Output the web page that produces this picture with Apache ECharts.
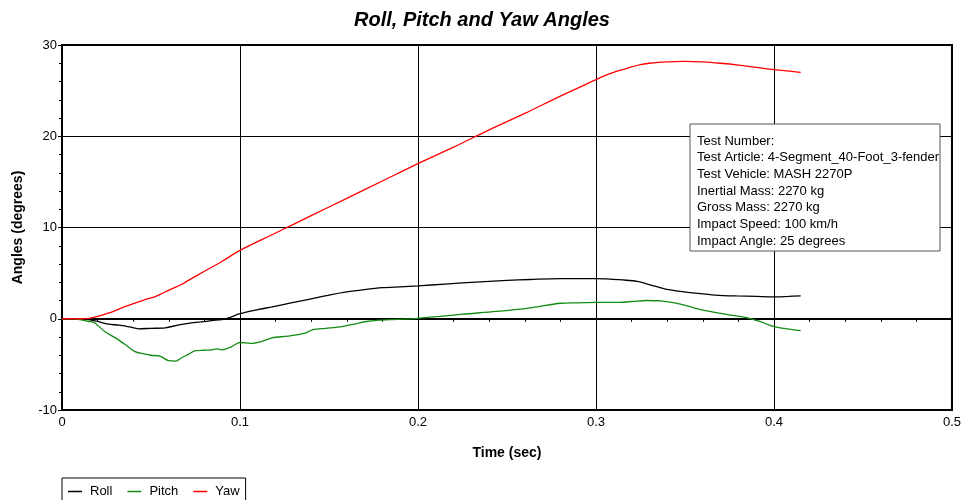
<!DOCTYPE html>
<html>
<head>
<meta charset="utf-8">
<script src="https://cdn.jsdelivr.net/npm/echarts@6/dist/echarts.min.js"></script>
<style>
  html, body { margin: 0; padding: 0; background: #fff; }
  #chart { width: 964px; height: 500px; }
</style>
</head>
<body>
<div id="chart"></div>
<script>
// values
var rollT = [0, 0.01, 0.015, 0.02, 0.026, 0.032, 0.038, 0.043, 0.05, 0.058, 0.065, 0.071, 0.078, 0.084, 0.092, 0.1, 0.11, 0.118, 0.128, 0.138, 0.15, 0.16, 0.17, 0.18, 0.19, 0.2, 0.215, 0.235, 0.25, 0.263, 0.28, 0.29, 0.3, 0.308, 0.315, 0.323, 0.33, 0.338, 0.347, 0.356, 0.367, 0.379, 0.39, 0.4, 0.408, 0.415];
var rollV = [0, 0, -0.1, -0.3, -0.6, -0.7, -0.9, -1.1, -1.05, -1.0, -0.7, -0.5, -0.35, -0.2, 0, 0.55, 1.0, 1.3, 1.7, 2.1, 2.6, 2.95, 3.2, 3.4, 3.5, 3.6, 3.8, 4.05, 4.2, 4.3, 4.4, 4.4, 4.4, 4.35, 4.25, 4.1, 3.75, 3.3, 3.0, 2.8, 2.6, 2.5, 2.45, 2.4, 2.45, 2.5];

var pitchT = [0, 0.007, 0.015, 0.018, 0.024, 0.03, 0.036, 0.041, 0.046, 0.05, 0.055, 0.06, 0.064, 0.067, 0.071, 0.075, 0.08, 0.084, 0.087, 0.09, 0.095, 0.1, 0.106, 0.112, 0.118, 0.127, 0.136, 0.141, 0.148, 0.156, 0.164, 0.171, 0.178, 0.184, 0.2, 0.212, 0.225, 0.244, 0.263, 0.28, 0.29, 0.3, 0.313, 0.321, 0.328, 0.336, 0.345, 0.355, 0.364, 0.374, 0.384, 0.392, 0.399, 0.407, 0.415];
var pitchV = [0, 0, -0.3, -0.4, -1.4, -2.1, -2.9, -3.6, -3.85, -4.0, -4.1, -4.6, -4.65, -4.3, -3.9, -3.5, -3.45, -3.4, -3.3, -3.4, -3.1, -2.6, -2.7, -2.5, -2.1, -1.9, -1.6, -1.2, -1.05, -0.9, -0.6, -0.3, -0.15, -0.1, 0.05, 0.25, 0.5, 0.8, 1.2, 1.7, 1.75, 1.8, 1.8, 1.9, 2.0, 1.95, 1.7, 1.2, 0.8, 0.45, 0.15, -0.3, -0.8, -1.1, -1.3];

var yawT = [0, 0.01, 0.015, 0.02, 0.025, 0.03, 0.035, 0.041, 0.046, 0.052, 0.057, 0.062, 0.067, 0.071, 0.08, 0.09, 0.1, 0.12, 0.14, 0.16, 0.18, 0.2, 0.22, 0.24, 0.26, 0.28, 0.3, 0.305, 0.31, 0.315, 0.32, 0.325, 0.33, 0.335, 0.34, 0.35, 0.36, 0.37, 0.38, 0.39, 0.4, 0.41, 0.415];
var yawV = [0, 0, 0.05, 0.25, 0.55, 0.9, 1.3, 1.7, 2.05, 2.4, 2.85, 3.3, 3.75, 4.2, 5.2, 6.3, 7.5, 9.4, 11.3, 13.2, 15.1, 17.0, 18.8, 20.7, 22.5, 24.4, 26.2, 26.65, 27.0, 27.3, 27.6, 27.85, 28.0, 28.1, 28.15, 28.2, 28.15, 28.0, 27.8, 27.55, 27.3, 27.1, 27.0];

var infoLines = [
  'Test Number:',
  'Test Article: 4-Segment_40-Foot_3-fender',
  'Test Vehicle: MASH 2270P',
  'Inertial Mass: 2270 kg',
  'Gross Mass: 2270 kg',
  'Impact Speed: 100 km/h',
  'Impact Angle: 25 degrees'
];

var FONT = 'Liberation Sans, Arial, sans-serif';

function pairs(t, v) {
  var out = [];
  for (var i = 0; i < t.length; i++) {
    out.push([t[i], v[i]]);
  }
  return out;
}

function lineSeries(name, color, t, v) {
  return {
    name: name,
    type: 'line',
    data: pairs(t, v),
    showSymbol: false,
    smooth: 0.3,
    lineStyle: { color: color, width: 1.3 },
    itemStyle: { color: color },
    emphasis: { disabled: true },
    z: 3
  };
}

// info box lines, one text element each
var infoTexts = infoLines.map(function (s, i) {
  return {
    type: 'text',
    x: 697,
    y: 141 + i * 16.7,
    z: 11,
    style: {
      text: s,
      fontSize: 13,
      fill: '#000',
      fontFamily: FONT,
      verticalAlign: 'middle'
    }
  };
});

var chart = echarts.init(document.getElementById('chart'));

chart.setOption({
  animation: false,
  backgroundColor: '#fff',
  textStyle: { fontFamily: FONT },
  title: {
    text: 'Roll, Pitch and Yaw Angles',
    left: 'center',
    top: 5,
    textStyle: { fontSize: 20, fontWeight: 'bold', fontStyle: 'italic', color: '#000', fontFamily: FONT }
  },
  grid: {
    left: 62, right: 11, top: 45, bottom: 90,
    show: true, borderColor: '#000', borderWidth: 2
  },
  legend: {
    left: 62, top: 478,
    data: ['Roll', 'Pitch', 'Yaw'],
    icon: 'rect',
    itemWidth: 14, itemHeight: 1.5,
    itemGap: 15,
    borderColor: '#000', borderWidth: 1,
    padding: [7, 6, 6, 6],
    textStyle: { fontSize: 13, color: '#000', fontFamily: FONT, padding: [0, 0, 0, 3] }
  },
  xAxis: {
    type: 'value',
    min: 0, max: 0.5, interval: 0.1,
    name: 'Time (sec)',
    nameLocation: 'middle',
    nameGap: 36,
    nameTextStyle: { fontSize: 14, fontWeight: 'bold', color: '#000' },
    axisLine: { lineStyle: { color: '#000', width: 2 } },
    axisTick: { show: true, length: 5, lineStyle: { color: '#000' } },
    minorTick: { show: true, splitNumber: 5, length: 3, lineStyle: { color: '#000' } },
    axisLabel: { fontSize: 13, color: '#000', margin: 6 },
    splitLine: { show: true, lineStyle: { color: '#000', width: 1 } }
  },
  yAxis: {
    type: 'value',
    min: -10, max: 30, interval: 10,
    name: 'Angles (degrees)',
    nameLocation: 'middle',
    nameGap: 37,
    nameTextStyle: { fontSize: 14, fontWeight: 'bold', color: '#000' },
    axisLine: { show: true, lineStyle: { color: '#000', width: 2 } },
    axisTick: { show: true, length: 4, lineStyle: { color: '#000' } },
    minorTick: { show: true, splitNumber: 5, length: 3, lineStyle: { color: '#000' } },
    axisLabel: { fontSize: 13, color: '#000', margin: 5 },
    splitLine: { show: true, lineStyle: { color: '#000', width: 1 } }
  },
  series: [
    lineSeries('Roll', '#000000', rollT, rollV),
    lineSeries('Pitch', '#128c12', pitchT, pitchV),
    lineSeries('Yaw', '#ff0000', yawT, yawV)
  ],
  graphic: [
    {
      type: 'rect',
      z: 10,
      shape: { x: 690, y: 124, width: 250, height: 127 },
      style: { fill: '#fff', stroke: '#555', lineWidth: 1 }
    }
  ].concat(infoTexts)
});
</script>
</body>
</html>
